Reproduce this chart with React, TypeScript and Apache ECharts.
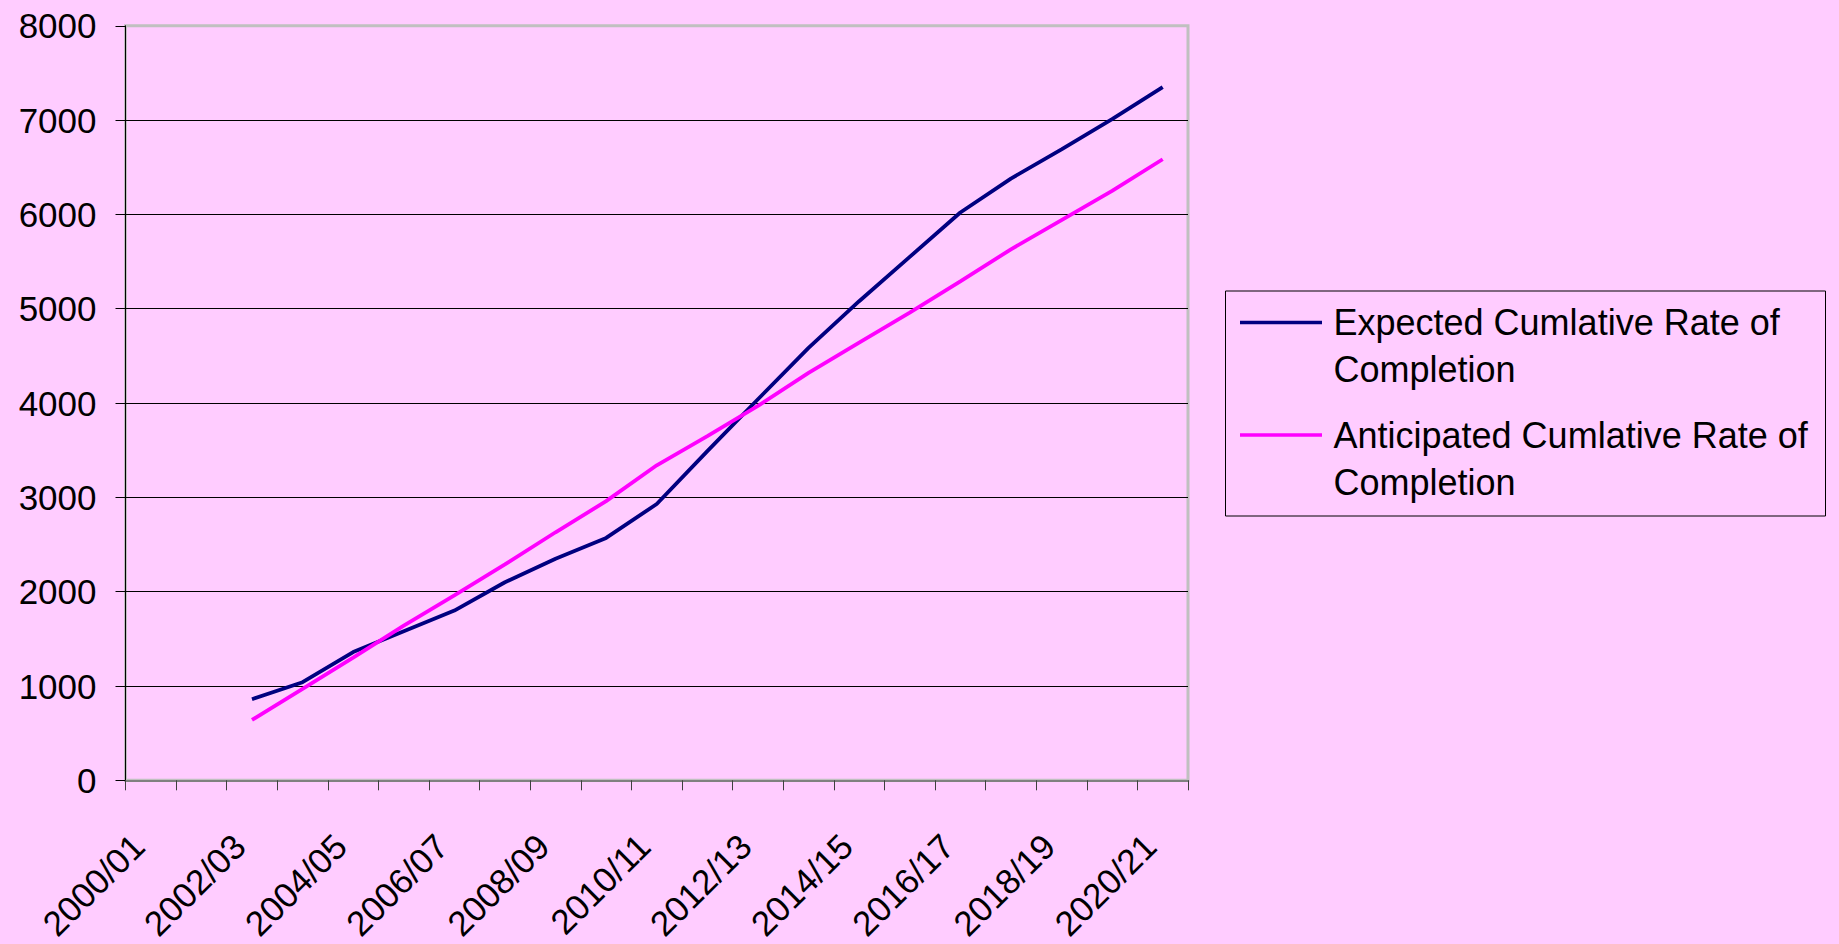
import React, { useEffect, useRef } from "react";
import * as echarts from "echarts";

const categories = [
  "2000/01", "2001/02", "2002/03", "2003/04", "2004/05", "2005/06", "2006/07",
  "2007/08", "2008/09", "2009/10", "2010/11", "2011/12", "2012/13", "2013/14",
  "2014/15", "2015/16", "2016/17", "2017/18", "2018/19", "2019/20", "2020/21",
];

const expectedName = "Expected Cumlative Rate of Completion";
const anticipatedName = "Anticipated Cumlative Rate of Completion";

const expected = [
  null, null, 860, 1040, 1360, 1580, 1800, 2100, 2350, 2570, 2930,
  3490, 4040, 4585, 5080, 5550, 6020, 6380, 6690, 7010, 7350,
];
const anticipated = [
  null, null, 640, 970, 1300, 1640, 1960, 2290, 2630, 2960, 3340,
  3650, 3970, 4320, 4640, 4960, 5290, 5630, 5940, 6250, 6585,
];

const yTicks = { min: 0, max: 8000, interval: 1000 };

const FONT = "'Liberation Sans', Arial, sans-serif";
const NAVY = "#000080";
const MAGENTA = "#FF00FF";

export default function App() {
  const ref = useRef<HTMLDivElement>(null);
  useEffect(() => {
    document.body.style.margin = "0";
    const chart = echarts.init(ref.current!, null, { renderer: "svg" });
    const splitColors = Array.from({ length: 9 }, (_, i) =>
      i === 0 ? "#808080" : i === 8 ? "#c0c0c0" : "#000000"
    );
    chart.setOption({
      animation: false,
      backgroundColor: "#FFCCFF",
      textStyle: { fontFamily: FONT },
      grid: {
        left: 125.5,
        top: 25.8,
        right: 651,
        bottom: 160.7,
        show: true,
        borderColor: "#c0c0c0",
        borderWidth: 3,
        backgroundColor: "transparent",
      },
      xAxis: {
        type: "category",
        data: categories,
        boundaryGap: true,
        axisLine: { show: true, lineStyle: { color: "#808080", width: 2 } },
        axisTick: { show: true, interval: 0, length: 10, lineStyle: { color: "#404040", width: 1 } },
        axisLabel: {
          interval: 1,
          rotate: 45,
          fontSize: 35,
          fontFamily: FONT,
          color: "#000",
          margin: 47,
          padding: [0, 18, 0, 0],
        },
        splitLine: { show: false },
      },
      yAxis: {
        type: "value",
        min: yTicks.min,
        max: yTicks.max,
        interval: yTicks.interval,
        axisLine: { show: true, lineStyle: { color: "#000", width: 1 } },
        axisTick: { show: true, length: 10, lineStyle: { color: "#000", width: 1 } },
        axisLabel: {
          fontSize: 35,
          fontFamily: FONT,
          color: "#000",
          margin: 29,
          formatter: (v: number) => String(v),
        },
        splitLine: { show: true, lineStyle: { color: splitColors, width: 1 } },
      },
      series: [
        {
          name: expectedName,
          type: "line",
          data: expected,
          showSymbol: false,
          symbol: "none",
          lineStyle: { color: NAVY, width: 3.8 },
          itemStyle: { color: NAVY },
        },
        {
          name: anticipatedName,
          type: "line",
          data: anticipated,
          showSymbol: false,
          symbol: "none",
          lineStyle: { color: MAGENTA, width: 3.8 },
          itemStyle: { color: MAGENTA },
        },
      ],
      graphic: [
        {
          type: "rect",
          shape: { x: 1225.5, y: 291, width: 600, height: 225 },
          style: { fill: "transparent", stroke: "#000", lineWidth: 1 },
        },
        {
          type: "line",
          shape: { x1: 1240, y1: 322.5, x2: 1322, y2: 322.5 },
          style: { stroke: NAVY, lineWidth: 3.5 },
        },
        {
          type: "line",
          shape: { x1: 1240, y1: 435, x2: 1322, y2: 435 },
          style: { stroke: MAGENTA, lineWidth: 3.5 },
        },
        {
          type: "text",
          x: 1333.5,
          y: 299,
          style: {
            text: "Expected Cumlative Rate of\nCompletion",
            font: `36px ${FONT}`,
            fill: "#000",
            lineHeight: 47,
            verticalAlign: "top",
          },
        },
        {
          type: "text",
          x: 1333.5,
          y: 411.5,
          style: {
            text: "Anticipated Cumlative Rate of\nCompletion",
            font: `36px ${FONT}`,
            fill: "#000",
            lineHeight: 47,
            verticalAlign: "top",
          },
        },
      ],
    });
    return () => chart.dispose();
  }, []);
  return <div ref={ref} style={{ width: 1839, height: 944 }} />;
}
